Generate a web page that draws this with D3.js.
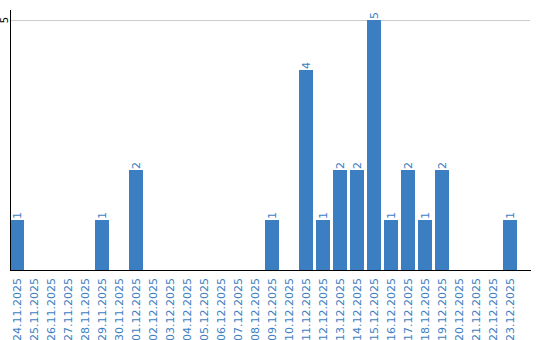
<!doctype html>
<html>
  <head>
    <meta charset="utf-8">
    <script src="https://cdn.jsdelivr.net/npm/d3@7"></script>
    <style>
      body { margin: 0; background: #fff; }
      text { font-family: "DejaVu Sans", sans-serif; font-size: 11px; }
    </style>
  </head>
  <body>
    <svg width="540" height="340"></svg>
  <script>
    let dates = ["24.11.2025","25.11.2025","26.11.2025","27.11.2025","28.11.2025","29.11.2025","30.11.2025",
                 "01.12.2025","02.12.2025","03.12.2025","04.12.2025","05.12.2025","06.12.2025","07.12.2025",
                 "08.12.2025","09.12.2025","10.12.2025","11.12.2025","12.12.2025","13.12.2025","14.12.2025",
                 "15.12.2025","16.12.2025","17.12.2025","18.12.2025","19.12.2025","20.12.2025","21.12.2025",
                 "22.12.2025","23.12.2025"]
    let counts = [1,0,0,0,0,1,0, 2,0,0,0,0,0,0, 0,1,0,4,1,2,2, 5,1,2,1,2,0,0, 0,1]
    let yTicks = [5]

    let blue = "#3b7ec2"
    let svg = d3.select("svg")

    // step 17px, bar 14px
    let x = d3.scaleBand().domain(dates).range([10, 517]).paddingInner(3/17).paddingOuter(0)
    let y = d3.scaleLinear().domain([0, 5]).range([270, 20])

    // gridline
    svg.selectAll(".grid").data(yTicks).enter().append("line")
      .attr("x1", 10).attr("x2", 530)
      .attr("y1", d => y(d) + 0.5).attr("y2", d => y(d) + 0.5)
      .attr("stroke", "#ccc")

    // bars
    svg.selectAll(".bar").data(dates).enter().append("rect")
      .attr("x", d => x(d))
      .attr("width", x.bandwidth())
      .attr("y", (d,i) => y(counts[i]))
      .attr("height", (d,i) => y(0) - y(counts[i]))
      .attr("fill", blue)

    // value labels
    svg.selectAll(".val").data(dates.filter((d,i) => counts[i] > 0)).enter().append("text")
      .attr("transform", d => "translate(" + (x(d) + x.bandwidth()/2 + 4) + "," + (y(counts[dates.indexOf(d)]) - 1) + ") rotate(-90)")
      .attr("fill", blue)
      .text(d => counts[dates.indexOf(d)])

    // axes lines
    svg.append("line").attr("x1", 10.5).attr("x2", 10.5).attr("y1", 10).attr("y2", 270).attr("stroke", "#000")
    svg.append("line").attr("x1", 10).attr("x2", 531).attr("y1", 270.5).attr("y2", 270.5).attr("stroke", "#000")

    // y tick labels
    svg.selectAll(".ytick").data(yTicks).enter().append("text")
      .attr("transform", d => "translate(8," + y(d) + ") rotate(-90)")
      .attr("text-anchor", "middle")
      .attr("fill", "#000")
      .style("font-size", "10px")
      .text(d => d)

    // x labels
    svg.selectAll(".xlab").data(dates).enter().append("text")
      .attr("transform", d => "translate(" + (x(d) + x.bandwidth()/2 + 4) + ",278) rotate(-90)")
      .attr("text-anchor", "end")
      .attr("fill", blue)
      .text(d => d)
  </script>
  </body>
</html>
